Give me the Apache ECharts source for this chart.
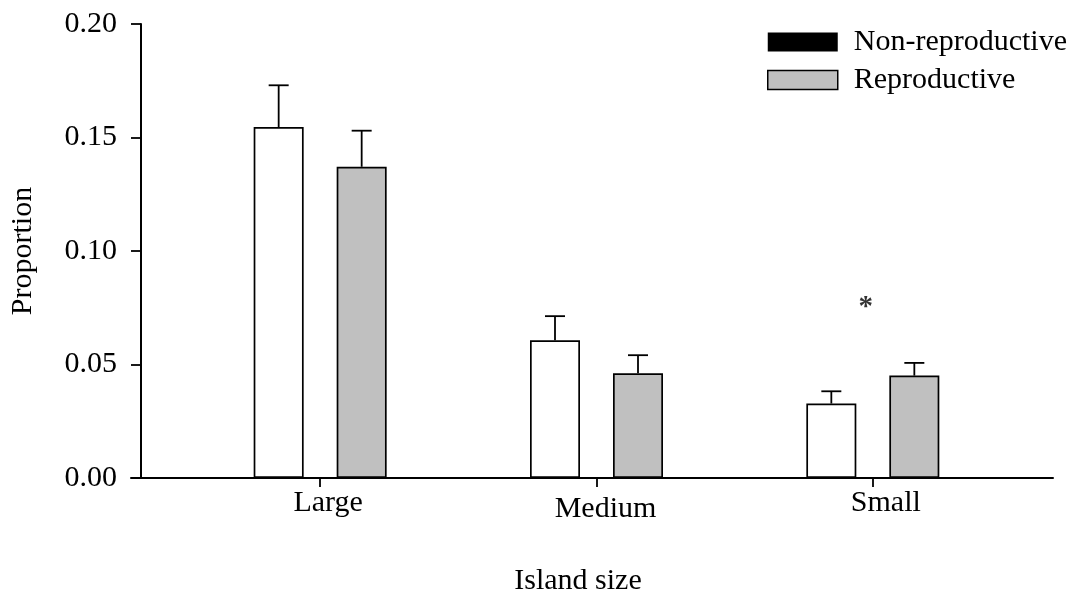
<!DOCTYPE html>
<html>
<head>
<meta charset="utf-8">
<style>
  html, body { margin: 0; padding: 0; background: #fff; }
  #chart { width: 1072px; height: 592px; }
</style>
<script src="https://cdn.jsdelivr.net/npm/echarts@6/dist/echarts.min.js"></script>
</head>
<body>
<div id="chart"></div>
<script>
// ---- data ----
const categories = ['Large', 'Medium', 'Small'];
const seriesNames = ['Non-reproductive', 'Reproductive'];
const nonReproductive = [0.1546, 0.0607, 0.0328];
const nonReproductiveErrTop = [0.173, 0.0713, 0.0382];
const reproductive = [0.1371, 0.0461, 0.0451];
const reproductiveErrTop = [0.153, 0.0541, 0.0507];
const yTicks = [0, 0.05, 0.10, 0.15, 0.20];
const starAnnotation = { category: 'Small', value: 0.075, text: '*' };

// ---- styling ----
const FONT = '"Liberation Serif", "Times New Roman", serif';
const FS = 30;
const BAR_W = 50;
const BAR_GAP_PX = 33;
const HALF_SPACING = (BAR_W + BAR_GAP_PX) / 2;

const chart = echarts.init(document.getElementById('chart'), null, { renderer: 'canvas' });

function errorSeries(name, vals, tops, sign) {
  return {
    type: 'custom',
    name: name + ' err',
    xAxisIndex: 0, yAxisIndex: 0,
    z: 5,
    silent: true,
    data: vals.map((v, i) => [i, v, tops[i]]),
    encode: { x: 0, y: [1, 2] },
    renderItem: function (params, api) {
      const base = api.coord([api.value(0), api.value(1)]);
      const top = api.coord([api.value(0), api.value(2)]);
      const x = base[0] + sign * HALF_SPACING;
      const style = { stroke: '#000', lineWidth: 1.8 };
      return {
        type: 'group',
        children: [
          { type: 'line', shape: { x1: x, y1: base[1], x2: x, y2: top[1] }, style: style },
          { type: 'line', shape: { x1: x - 10, y1: top[1], x2: x + 10, y2: top[1] }, style: style }
        ]
      };
    }
  };
}

const labelShift = {
  Large: { padding: [0, 0, 0, 16] },
  Medium: { padding: [6, 0, 0, 18] },
  Small: { padding: [0, 0, 0, 26] }
};
const richLabels = {};
Object.keys(labelShift).forEach(k => {
  richLabels[k] = Object.assign({ fontFamily: FONT, fontSize: FS, color: '#000' }, labelShift[k]);
});

const option = {
  animation: false,
  backgroundColor: '#fff',
  textStyle: { fontFamily: FONT },
  grid: [
    { left: 182, right: 61, top: 24, bottom: 114, containLabel: false, outerBoundsMode: 'none' },
    { left: 131, right: 19, top: 24, bottom: 114, containLabel: false, outerBoundsMode: 'none' }
  ],
  legend: {
    left: 767,
    top: 27,
    padding: 0,
    orient: 'vertical',
    itemWidth: 70,
    itemHeight: 19,
    itemGap: 8,
    icon: 'rect',
    selectedMode: false,
    textStyle: { fontFamily: FONT, fontSize: FS, color: '#000', lineHeight: 29, padding: [0, 0, 0, 11] },
    data: [
      { name: seriesNames[0], itemStyle: { color: '#000', borderColor: '#000', borderWidth: 0 } },
      { name: seriesNames[1], itemStyle: { color: '#c0c0c0', borderColor: '#000', borderWidth: 1.5 } }
    ]
  },
  xAxis: [
    {
      type: 'category',
      gridIndex: 0,
      data: categories,
      boundaryGap: true,
      axisLine: { show: false },
      axisTick: { show: true, alignWithLabel: true, length: 9, lineStyle: { color: '#000', width: 1.8 } },
      axisLabel: {
        margin: 10,
        formatter: function (v) { return '{' + v + '|' + v + '}'; },
        rich: richLabels
      },
      name: 'Island size',
      nameLocation: 'middle',
      nameGap: 88,
      nameTextStyle: { fontFamily: FONT, fontSize: FS, color: '#000', padding: [0, 37, 0, 0] }
    },
    {
      type: 'value',
      gridIndex: 1,
      min: 0, max: 1,
      axisLine: { show: true, onZero: false, lineStyle: { color: '#000', width: 2 } },
      axisTick: { show: false },
      axisLabel: { show: false },
      splitLine: { show: false }
    }
  ],
  yAxis: [
    {
      type: 'value',
      gridIndex: 0,
      min: yTicks[0],
      max: yTicks[yTicks.length - 1],
      interval: 0.05,
      offset: 41,
      axisLine: { show: true, lineStyle: { color: '#000', width: 2 } },
      axisTick: { show: true, length: 10, lineStyle: { color: '#000', width: 1.8 } },
      axisLabel: {
        margin: 24,
        fontFamily: FONT, fontSize: FS, color: '#000',
        formatter: v => v.toFixed(2)
      },
      splitLine: { show: false },
      name: 'Proportion',
      nameLocation: 'middle',
      nameGap: 103,
      nameTextStyle: { fontFamily: FONT, fontSize: FS, color: '#000' }
    },
    {
      type: 'value',
      gridIndex: 1,
      show: false,
      min: 0, max: 1
    }
  ],
  series: [
    {
      name: seriesNames[0],
      type: 'bar',
      xAxisIndex: 0, yAxisIndex: 0,
      barWidth: BAR_W,
      barGap: (BAR_GAP_PX / BAR_W * 100) + '%',
      itemStyle: { color: '#ffffff', borderColor: '#000', borderWidth: 1.7 },
      data: nonReproductive
    },
    {
      name: seriesNames[1],
      type: 'bar',
      xAxisIndex: 0, yAxisIndex: 0,
      barWidth: BAR_W,
      barGap: (BAR_GAP_PX / BAR_W * 100) + '%',
      itemStyle: { color: '#c0c0c0', borderColor: '#000', borderWidth: 1.7 },
      data: reproductive
    },
    errorSeries(seriesNames[0], nonReproductive, nonReproductiveErrTop, -1),
    errorSeries(seriesNames[1], reproductive, reproductiveErrTop, 1),
    {
      name: 'annotation',
      type: 'scatter',
      xAxisIndex: 0, yAxisIndex: 0,
      symbolSize: 0,
      silent: true,
      data: [[starAnnotation.category, starAnnotation.value]],
      label: {
        show: true,
        position: 'inside',
        offset: [-7, 0],
        formatter: starAnnotation.text,
        fontFamily: FONT, fontSize: 29, fontWeight: 'bold', color: '#000'
      }
    }
  ]
};

chart.setOption(option);
</script>
</body>
</html>
